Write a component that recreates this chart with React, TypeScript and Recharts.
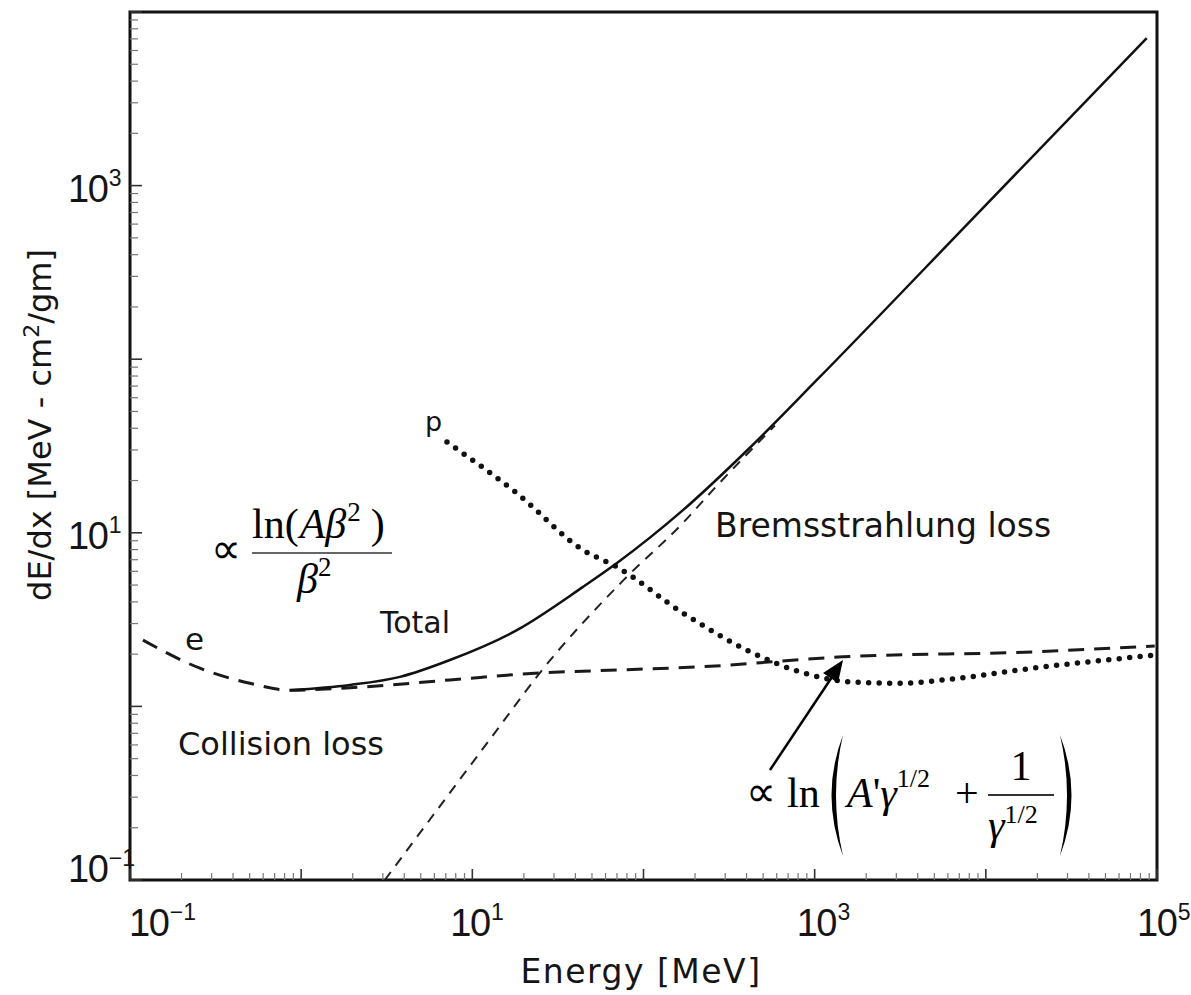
import { LineChart, Line, XAxis, YAxis, ReferenceArea } from "recharts";

// electron collision loss ("e", dashed)
const collisionEnergy = [0.119, 0.256, 0.502, 0.86, 1.93, 7.4, 24.8, 70, 213, 1460, 18800, 97000];
const collisionLoss = [2.41, 1.66, 1.36, 1.24, 1.28, 1.42, 1.56, 1.62, 1.69, 1.93, 2.06, 2.23];

// electron total loss (solid)
const totalEnergy = [0.86, 1.93, 3.78, 7.4, 18.2, 44.3, 70, 170, 418, 1030, 8630, 87100];
const totalLoss = [1.24, 1.33, 1.48, 1.85, 2.75, 4.88, 6.7, 13.5, 30.9, 75.9, 665, 7080];

// bremsstrahlung loss (thin dashed)
const bremsEnergy = [3.08, 13.9, 24.8, 75.9, 170, 254, 586];
const bremsLoss = [0.1, 0.73, 1.56, 5.3, 11.4, 17.6, 41.5];

// proton loss ("p", dotted)
const protonEnergy = [7.11, 18.2, 44.3, 70, 170, 436, 820, 1671, 3148, 6412, 18800, 99770];
const protonLoss = [33.3, 16.9, 7.96, 6.35, 3.45, 2.03, 1.58, 1.38, 1.36, 1.44, 1.66, 1.98];

// axes
const xDecades = [0.1, 1, 10, 100, 1000, 10000, 100000];
const yDecades = [0.1, 1, 10, 100, 1000, 10000];
const minorSteps = [2, 3, 4, 5, 6, 7, 8, 9];
const xLabelTicks = [0.1, 10, 1000, 100000];
const xLabelExps = ["\u22121", "1", "3", "5"];
const xLabelShift = [17, -4, 0, -2];
const yLabelTicks = [0.1, 10, 1000];
const yLabelExps = ["\u22121", "1", "3"];

const zip = (xs: number[], ys: number[]) => xs.map((e, i) => ({ e, v: ys[i] }));
const collisionData = zip(collisionEnergy, collisionLoss);
const totalData = zip(totalEnergy, totalLoss);
const bremsData = zip(bremsEnergy, bremsLoss);
const protonData = zip(protonEnergy, protonLoss);

const withMinors = (decades: number[], max: number) => {
  const out: number[] = [...decades];
  decades.forEach((d) => minorSteps.forEach((m) => d * m < max && out.push(d * m)));
  return out.sort((a, b) => a - b);
};
const xTicks = withMinors(xDecades, 100000);
const yTicks = withMinors(yDecades, 10000);

const same = (a: number, b: number) => Math.abs(a - b) / b < 1e-6;
const SANS = "DejaVu Sans, Liberation Sans, sans-serif";
const TICK_FONT = "Liberation Sans, Arial, sans-serif";
const SERIF = "Liberation Serif, Times New Roman, serif";
const INK = "#151515";

// "10" with a raised exponent, drawn as one text run
const Power = ({ x, y, exp }: { x: number; y: number; exp: string }) => (
  <text x={x} y={y} fill={INK} fontFamily={TICK_FONT} fontSize={38} letterSpacing={-1.5}>
    10
    <tspan dy={-16} dx={1.5} fontSize={23} letterSpacing={0}>
      {exp}
    </tspan>
  </text>
);

const XTick = (props: any) => {
  const { x, y, payload } = props;
  const v = payload.value as number;
  const decade = xDecades.some((d) => same(v, d));
  const li = xLabelTicks.findIndex((t) => same(v, t));
  const len = decade ? 11 : 7;
  return (
    <g>
      <line x1={x} x2={x} y1={y} y2={y - len} stroke={decade ? "#333" : "#777"} strokeWidth={decade ? 1.6 : 1.2} />
      {li >= 0 && <Power x={x + xLabelShift[li] - 18} y={y + 56} exp={xLabelExps[li]} />}
    </g>
  );
};

const YTick = (props: any) => {
  const { x, y, payload } = props;
  const v = payload.value as number;
  const decade = yDecades.some((d) => same(v, d));
  const li = yLabelTicks.findIndex((t) => same(v, t));
  const len = decade ? 12 : 8;
  const base = same(v, 0.1) ? y + 2 : y + 16;
  return (
    <g>
      <line x1={x} x2={x + len} y1={y} y2={y} stroke={decade ? "#333" : "#777"} strokeWidth={decade ? 1.6 : 1.2} />
      {li >= 0 && <Power x={x - 62} y={base} exp={yLabelExps[li]} />}
    </g>
  );
};

function Annotations() {
  return (
    <svg width={1191} height={995} style={{ position: "absolute", left: 0, top: 0, pointerEvents: "none" }}>
      <g fill={INK} fontFamily={SANS}>
        <text x={641} y={983} textAnchor="middle" fontSize={33} letterSpacing={1.5}>
          Energy [MeV]
        </text>
        <text transform="translate(51,425) rotate(-90)" textAnchor="middle" fontSize={32}>
          dE/dx [MeV - cm<tspan dy={-12} fontSize={22}>2</tspan>
          <tspan dy={12}>/gm]</tspan>
        </text>
        <text x={425} y={431} fontSize={27}>p</text>
        <text x={185} y={650} fontSize={31}>e</text>
        <text x={380} y={633} fontSize={30}>Total</text>
        <text x={715} y={537} fontSize={33}>Bremsstrahlung loss</text>
        <text x={178} y={755} fontSize={32}>Collision loss</text>
      </g>

      {/* ionisation formula */}
      <g fill="#000" fontFamily={SERIF} fontSize={42}>
        <text x={211} y={563}>∝</text>
        <text x={252} y={538}>
          ln(<tspan fontStyle="italic" dx={1}>A</tspan>
          <tspan fontStyle="italic">β</tspan>
          <tspan dy={-17} dx={1} fontSize={27}>2</tspan>
          <tspan dy={17} dx={10}>)</tspan>
        </text>
        <line x1={252} x2={392} y1={553} y2={553} stroke="#666" strokeWidth={2.2} />
        <text x={297} y={593}>
          <tspan fontStyle="italic">β</tspan>
          <tspan dy={-17} fontSize={27}>2</tspan>
        </text>
      </g>

      {/* relativistic rise formula */}
      <g fill="#000" fontFamily={SERIF} fontSize={42}>
        <text x={746} y={806}>∝</text>
        <text x={787} y={807}>ln</text>
        <path d="M843 735 Q820 795 843 856 Q829 795 843 735 Z" />
        <text x={847} y={807}>
          <tspan fontStyle="italic">A</tspan>'<tspan fontStyle="italic">γ</tspan>
          <tspan dy={-20} fontSize={26}>1/2</tspan>
        </text>
        <text x={955} y={807}>+</text>
        <text x={1021} y={780} textAnchor="middle">1</text>
        <line x1={988} x2={1054} y1={795} y2={795} stroke="#333" strokeWidth={2} />
        <text x={988} y={839}>
          <tspan fontStyle="italic">γ</tspan>
          <tspan dy={-16} fontSize={26}>1/2</tspan>
        </text>
        <path d="M1060 735 Q1083 795 1060 856 Q1074 795 1060 735 Z" />
        <line x1={770} y1={770} x2={832} y2={677} stroke="#000" strokeWidth={2.5} />
        <polygon points="843,660 838,683 823,673" />
      </g>
    </svg>
  );
}

export default function App() {
  return (
    <div style={{ position: "absolute", left: 0, top: 0, width: 1191, height: 995, background: "#fff" }}>
      <LineChart width={1191} height={995} margin={{ top: 12, right: 34, bottom: 0, left: 0 }}>
        <XAxis
          type="number"
          dataKey="e"
          scale="log"
          domain={[0.1, 100000]}
          allowDataOverflow
          ticks={xTicks}
          interval={0}
          tickLine={false}
          axisLine={false}
          tickSize={0}
          tickMargin={0}
          height={115}
          tick={XTick}
        />
        <YAxis
          type="number"
          scale="log"
          domain={[0.1, 10000]}
          allowDataOverflow
          ticks={yTicks}
          interval={0}
          tickLine={false}
          axisLine={false}
          tickSize={0}
          tickMargin={0}
          width={130}
          tick={YTick}
        />
        <Line data={bremsData} dataKey="v" type="monotone" stroke="#222" strokeWidth={2} strokeDasharray="10 8" dot={false} isAnimationActive={false} />
        <Line data={collisionData} dataKey="v" type="monotone" stroke="#1a1a1a" strokeWidth={3} strokeDasharray="16 10" dot={false} isAnimationActive={false} />
        <Line data={protonData} dataKey="v" type="monotone" stroke="#111" strokeWidth={5.5} strokeDasharray="0 10.5" strokeLinecap="round" dot={false} isAnimationActive={false} />
        <Line data={totalData} dataKey="v" type="monotone" stroke="#111" strokeWidth={2.5} dot={false} isAnimationActive={false} />
        <ReferenceArea x1={0.1} x2={100000} y1={0.1} y2={10000} fill="none" stroke="#111" strokeWidth={3} ifOverflow="visible" />
      </LineChart>
      <Annotations />
    </div>
  );
}
